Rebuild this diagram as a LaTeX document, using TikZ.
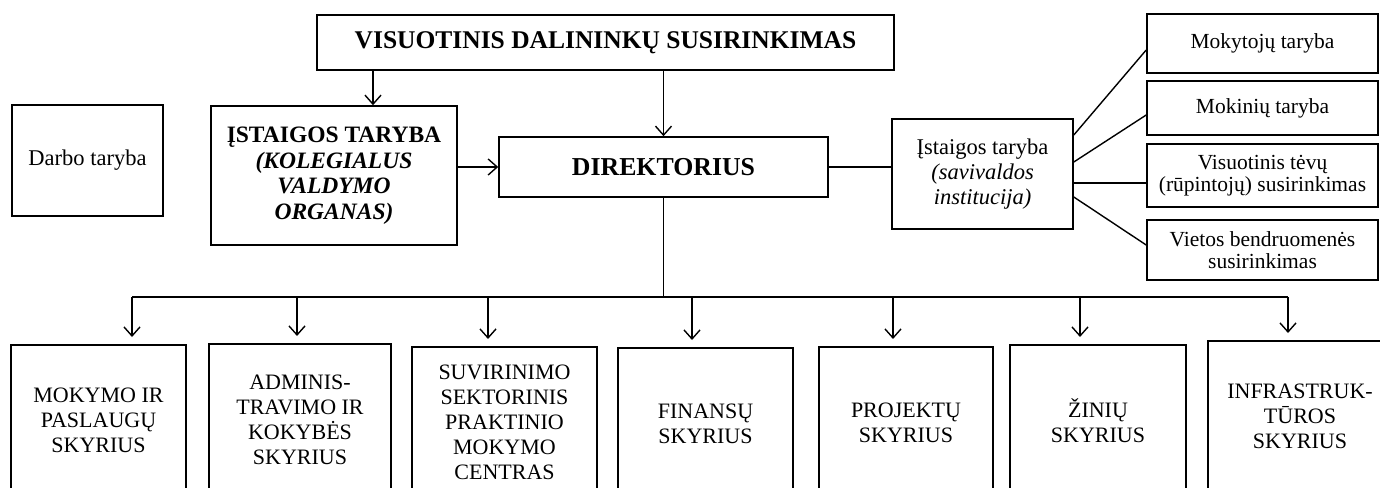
\documentclass[tikz,border=0pt]{standalone}
\usepackage{fontspec}
\setmainfont{Liberation Serif}
\usetikzlibrary{arrows.meta}
\tikzset{
  box/.style={draw, line width=1.6pt, align=center, inner sep=0pt},
  conn/.style={line width=1.4pt},
  arr/.style={conn, -{Straight Barb[length=9pt,width=16pt]}},
  dept/.style={box, anchor=north, minimum height=152pt, font=\fontsize{22}{25}\selectfont},
  side/.style={box, minimum width=231pt, font=\fontsize{21.5}{21.5}\selectfont},
}
\begin{document}
\begin{tikzpicture}[x=1pt,y=-1pt]
\clip (0,0) rectangle (1380,487);
% top row
\node[box, minimum width=577pt, minimum height=55pt, font=\fontsize{25.5}{28}\selectfont\bfseries] (top) at (605.5,42.5) {VISUOTINIS DALININKŲ SUSIRINKIMAS};
\node[box, minimum width=151pt, minimum height=111pt, font=\fontsize{22.5}{25}\selectfont] (darbo) at (87.5,160.5) {Darbo taryba};
\node[box, minimum width=246pt, minimum height=139pt, font=\fontsize{23.5}{25.5}\selectfont\bfseries] (ist1) at (334,175.5) {ĮSTAIGOS TARYBA\\\textit{(KOLEGIALUS}\\\textit{VALDYMO}\\\textit{ORGANAS)}};
\node[box, minimum width=329pt, minimum height=60pt, font=\fontsize{25.8}{28}\selectfont\bfseries] (dir) at (663.5,167) {DIREKTORIUS};
\node[box, minimum width=181pt, minimum height=110pt, font=\fontsize{22.5}{25}\selectfont] (ist2) at (982.5,174) {Įstaigos taryba\\\textit{(savivaldos}\\\textit{institucija)}};
% right column
\node[side, minimum height=59pt] (mokyt) at (1262.5,43.5) {Mokytojų taryba};
\node[side, minimum height=54pt] (mokin) at (1262.5,108) {Mokinių taryba};
\node[side, minimum height=63pt] (tevu) at (1262.5,175.5) {Visuotinis tėvų\\(rūpintojų) susirinkimas};
\node[side, minimum height=60pt] (vietos) at (1262.5,250) {Vietos bendruomenės\\susirinkimas};
% departments
\node[dept, minimum width=175pt] (s1) at (98.5,344) {MOKYMO IR\\PASLAUGŲ\\SKYRIUS};
\node[dept, minimum width=182pt] (s2) at (300,343) {ADMINIS-\\TRAVIMO IR\\KOKYBĖS\\SKYRIUS};
\node[dept, minimum width=185pt] (s3) at (504.5,346) {SUVIRINIMO\\SEKTORINIS\\PRAKTINIO\\MOKYMO\\CENTRAS};
\node[dept, minimum width=175pt] (s4) at (705.5,347) {FINANSŲ\\SKYRIUS};
\node[dept, minimum width=174pt] (s5) at (906,346) {PROJEKTŲ\\SKYRIUS};
\node[dept, minimum width=176pt] (s6) at (1098,344) {ŽINIŲ\\SKYRIUS};
\node[dept, minimum width=184pt] (s7) at (1300,340) {INFRASTRUK-\\TŪROS\\SKYRIUS};
% connectors top
\coordinate (t1) at ([xshift=39pt]ist1.north);
\draw[arr] (t1 |- top.south) -- (t1);
\draw[arr] (dir.north |- top.south) -- (dir.north);
\draw[arr] (ist1.east |- dir.west) -- (dir.west);
\draw[conn] (dir.east) -- (dir.east -| ist2.west);
% right fan
\draw[conn] ([yshift=39pt]ist2.east) -- ([yshift=-6.5pt]mokyt.west);
\draw[conn] ([yshift=12pt]ist2.east) -- ([yshift=-7pt]mokin.west);
\draw[conn] ([yshift=-9pt]ist2.east) -- ([yshift=-7.5pt]tevu.west);
\draw[conn] ([yshift=-23pt]ist2.east) -- ([yshift=5pt]vietos.west);
% bus
\coordinate (a1) at (132,297);
\coordinate (a2) at (297,297);
\coordinate (a3) at (488,297);
\coordinate (a4) at (692,297);
\coordinate (a5) at (893,297);
\coordinate (a6) at (1080,297);
\coordinate (a7) at (1288,297);
\draw[conn] (dir.south) -- (dir.south |- a1);
\draw[conn] (a1) -- (a7);
\foreach \i in {1,...,7} {
  \draw[arr, shorten >=7pt] (a\i) -- (a\i |- s\i.north);
}
\end{tikzpicture}
\end{document}
